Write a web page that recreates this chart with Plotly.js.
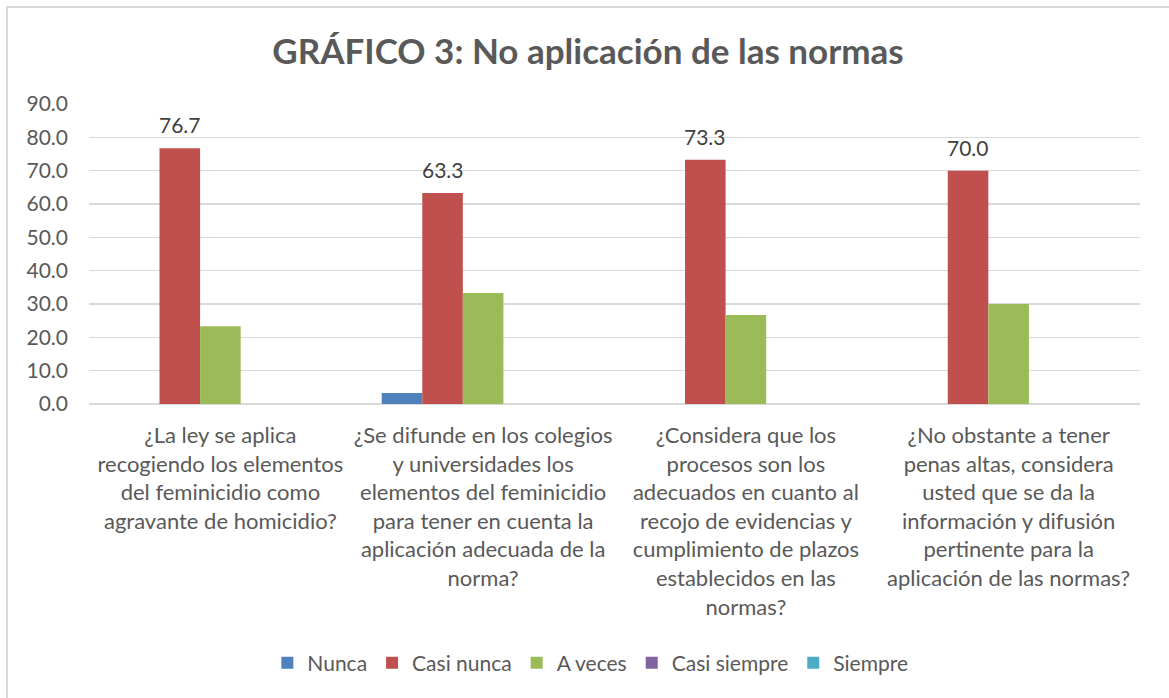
<!DOCTYPE html>
<html>
<head>
<meta charset="utf-8">
<script src="https://cdn.plot.ly/plotly-3.0.1.min.js"></script>
<style>
  html, body { margin: 0; padding: 0; background: #fff; overflow: hidden; }
  #wrap { position: relative; width: 1169px; height: 698px; overflow: hidden; }
  #chart { width: 1169px; height: 698px; }
  #frame { position: absolute; left: 6px; top: 6px; width: 1200px; height: 800px;
           border: 2px solid #d9d9d9; pointer-events: none; box-sizing: border-box; }
</style>
</head>
<body>
<div id="wrap">
  <div id="chart"></div>
  <div id="frame"></div>
</div>
<script>
// ---- data ----
const categories = [
  "¿La ley se aplica<br>recogiendo los elementos<br>del feminicidio como<br>agravante de homicidio?",
  "¿Se difunde en los colegios<br>y universidades los<br>elementos del feminicidio<br>para tener en cuenta la<br>aplicación adecuada de la<br>norma?",
  "¿Considera que los<br>procesos son los<br>adecuados en cuanto al<br>recojo de evidencias y<br>cumplimiento de plazos<br>establecidos en las<br>normas?",
  "¿No obstante a tener<br>penas altas, considera<br>usted que se da la<br>información y difusión<br>pertinente para la<br>aplicación de las normas?"
];
const seriesNames = ["Nunca", "Casi nunca", "A veces", "Casi siempre", "Siempre"];
const nunca       = [0, 3.3, 0, 0];
const casiNunca   = [76.7, 63.3, 73.3, 70.0];
const aVeces      = [23.3, 33.3, 26.7, 30.0];
const casiSiempre = [0, 0, 0, 0];
const siempre     = [0, 0, 0, 0];
const seriesValues = [nunca, casiNunca, aVeces, casiSiempre, siempre];
const seriesColors = ["#4f81bd", "#c0504d", "#9bbb59", "#8064a2", "#4bacc6"];
const yTickVals = [0, 10, 20, 30, 40, 50, 60, 70, 80, 90];

// ---- build ----
const FONT = "Lato, 'Open Sans', sans-serif";

const traces = seriesNames.map((name, i) => ({
  type: "bar",
  name: name,
  x: categories,
  y: seriesValues[i],
  marker: { color: seriesColors[i] },
  hoverinfo: "x+y+name"
}));

const plotW = 1169 - 89 - 29;
const groupW = plotW / categories.length * (1 - 0.228);
const barW = groupW / seriesNames.length;

const annotations = casiNunca.map((v, i) => ({
  x: categories[i], y: v, xref: "x", yref: "y",
  text: v.toFixed(1), showarrow: false,
  xshift: -barW, yshift: 9, yanchor: "bottom",
  font: { family: FONT, size: 21, color: "#404040" }
}));

const layout = {
  width: 1169, height: 698,
  paper_bgcolor: "#fff", plot_bgcolor: "#fff",
  margin: { l: 89, r: 29, t: 104, b: 294 },
  barmode: "group", bargap: 0.228, bargroupgap: 0,
  title: {
    text: "<b>GRÁFICO 3: No aplicación de las normas</b>",
    font: { family: FONT, size: 35, color: "#595959" },
    x: 0.503, xanchor: "center", xref: "container",
    y: 1 - 52 / 698, yanchor: "middle", yref: "container"
  },
  xaxis: {
    type: "category",
    tickfont: { family: FONT, size: 22, color: "#595959" },
    ticks: "", showline: false, showgrid: false, zeroline: false,
    ticklabelstandoff: 16, fixedrange: true
  },
  yaxis: {
    range: [0, 90], tickvals: yTickVals, tickformat: ".1f",
    tickfont: { family: FONT, size: 21, color: "#595959" },
    ticks: "", showline: false, gridcolor: "#d9d9d9", gridwidth: 1.4,
    zeroline: true, zerolinecolor: "#d9d9d9", zerolinewidth: 1.4,
    ticklabelstandoff: 20, fixedrange: true
  },
  showlegend: true,
  legend: {
    orientation: "h", x: 0.505, xanchor: "center", xref: "container",
    y: 1 - 663 / 698, yanchor: "middle", yref: "container",
    font: { family: FONT, size: 21, color: "#595959" },
    traceorder: "normal", itemclick: false, itemdoubleclick: false
  },
  annotations: annotations
};

Plotly.newPlot("chart", traces, layout, { displayModeBar: false, staticPlot: true });
</script>
</body>
</html>
